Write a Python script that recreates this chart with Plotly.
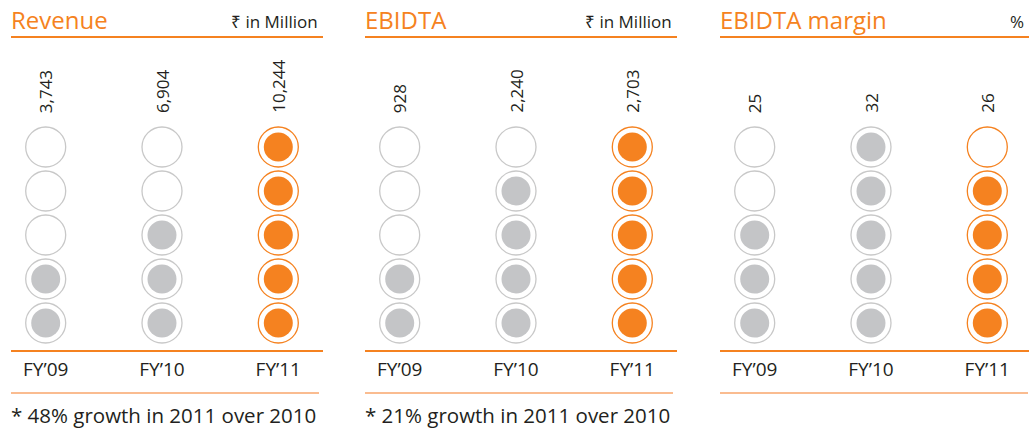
import plotly.graph_objects as go

# ---------------- data ----------------
years = ["FY’09", "FY’10", "FY’11"]
panel_titles = ["Revenue", "EBIDTA", "EBIDTA margin"]
panel_units = ["₹ in Million", "₹ in Million", "%"]
revenue = [3743, 6904, 10244]
ebidta = [928, 2240, 2703]
ebidta_margin = [25, 32, 26]
revenue_dots = [2, 3, 5]
ebidta_dots = [2, 4, 5]
margin_dots = [3, 5, 4]
footnotes = ["* 48% growth in 2011 over 2010", "* 21% growth in 2011 over 2010", ""]
DOTS_PER_COLUMN = 5
HIGHLIGHT = "FY’11"

panel_values = [revenue, ebidta, ebidta_margin]
panel_dots = [revenue_dots, ebidta_dots, margin_dots]

# ---------------- style / layout ----------------
W, H = 1029, 429
ORANGE = "#F58220"
ORANGE_LIGHT = "#F9A66B"
GRAY_FILL = "#C4C5C7"
GRAY_RING = "#C8C8C8"
TEXT = "#231F20"
FONT = "Open Sans"

lefts = [11, 365, 720]
panel_w = 312
col_off = 34.7      # px from panel left to first column centre
col_step = 116.3    # px between columns
row_step = 44.0     # px between dot rows
row1_px = 323.0     # px (from top) of bottom dot row
line_top_px = 38.0
line_bot_px = 350.0
line2_px = 393.0


def y_data(px):
    return 1 + (row1_px - px) / row_step


fig = go.Figure()
annotations = []
shapes = []
layout_axes = {}

for i in range(3):
    L = lefts[i]
    R = min(L + panel_w, W)
    xname = "x" if i == 0 else f"x{i+1}"
    yname = "y" if i == 0 else f"y{i+1}"
    xkey = "xaxis" if i == 0 else f"xaxis{i+1}"
    ykey = "yaxis" if i == 0 else f"yaxis{i+1}"

    layout_axes[xkey] = dict(
        domain=[L / W, R / W],
        type="category",
        categoryorder="array",
        categoryarray=years,
        range=[-col_off / col_step, (R - L - col_off) / col_step],
        showline=True, linecolor=ORANGE, linewidth=1.5, mirror=True,
        ticks="", showgrid=False, zeroline=False,
        tickfont=dict(family=FONT, size=19, color=TEXT),
        ticklabelstandoff=1,
        anchor=yname, fixedrange=True,
    )
    layout_axes[ykey] = dict(
        domain=[(H - line_bot_px) / H, (H - line_top_px) / H],
        range=[y_data(line_bot_px), y_data(line_top_px)],
        visible=False, anchor=xname, fixedrange=True,
    )

    dots = panel_dots[i]
    ring_x, ring_y, ring_c = [], [], []
    fill_x, fill_y, fill_c = [], [], []
    for j, yr in enumerate(years):
        hl = yr == HIGHLIGHT
        for k in range(1, DOTS_PER_COLUMN + 1):
            ring_x.append(yr); ring_y.append(k)
            ring_c.append(ORANGE if hl else GRAY_RING)
            if k <= dots[j]:
                fill_x.append(yr); fill_y.append(k)
                fill_c.append(ORANGE if hl else GRAY_FILL)

    fig.add_trace(go.Scatter(
        x=ring_x, y=ring_y, mode="markers", xaxis=xname, yaxis=yname,
        marker=dict(symbol="circle", size=40, color="white",
                    line=dict(color=ring_c, width=1.3)),
        hoverinfo="skip", showlegend=False))
    fig.add_trace(go.Scatter(
        x=fill_x, y=fill_y, mode="markers", xaxis=xname, yaxis=yname,
        marker=dict(symbol="circle", size=29, color=fill_c, line=dict(width=0)),
        hoverinfo="skip", showlegend=False))

    # value labels (rotated)
    for j, yr in enumerate(years):
        annotations.append(dict(
            x=yr, y=y_data(115), xref=xname, yref=yname,
            text=f"{panel_values[i][j]:,}", textangle=-90,
            showarrow=False, xanchor="center", yanchor="bottom",
            font=dict(family=FONT, size=17, color=TEXT)))

    # title + unit
    annotations.append(dict(
        x=L / W, y=(H - 20) / H, xref="paper", yref="paper",
        text=panel_titles[i], showarrow=False, xanchor="left", yanchor="middle",
        xshift=-2, font=dict(family=FONT, size=24, color=ORANGE)))
    annotations.append(dict(
        x=(min(L + panel_w, W) - 3) / W, y=(H - 21) / H, xref="paper", yref="paper",
        text=panel_units[i], showarrow=False, xanchor="right", yanchor="middle",
        font=dict(family=FONT, size=17, color=TEXT)))

    # second rule under year labels
    shapes.append(dict(
        type="line", xref="paper", yref="paper",
        x0=L / W, x1=min(L + panel_w - 4, W) / W,
        y0=(H - line2_px) / H, y1=(H - line2_px) / H,
        line=dict(color=ORANGE_LIGHT, width=1.5)))

    if footnotes[i]:
        annotations.append(dict(
            x=L / W, y=(H - 399) / H, xref="paper", yref="paper",
            text=footnotes[i], showarrow=False, xanchor="left", yanchor="top",
            xshift=-2, font=dict(family=FONT, size=20.5, color=TEXT)))

fig.update_layout(
    width=W, height=H,
    margin=dict(l=0, r=0, t=0, b=0),
    paper_bgcolor="white", plot_bgcolor="white",
    annotations=annotations, shapes=shapes,
    **layout_axes,
)

fig.write_html(
    "out.html",
    config={"displayModeBar": False},
    post_script="document.body.style.margin='0';document.body.style.overflow='hidden';",
)
